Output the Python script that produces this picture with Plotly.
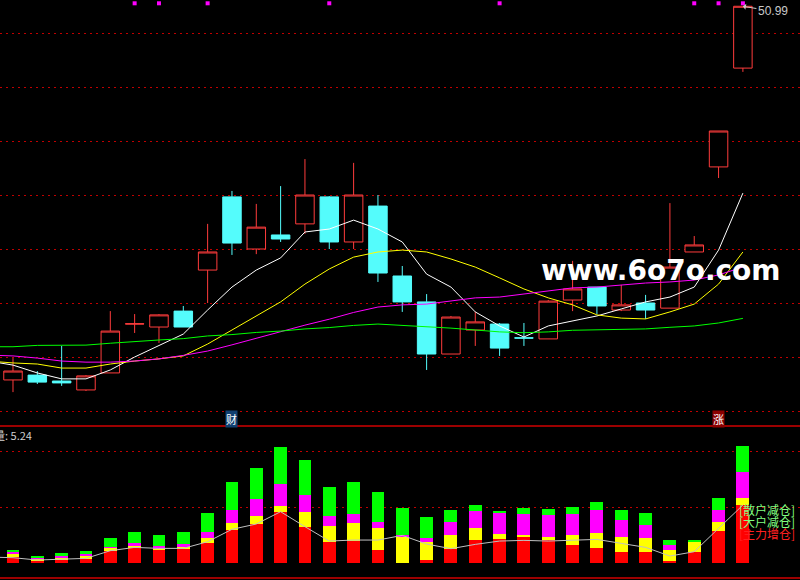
import plotly.graph_objects as go

# ---------------- data ----------------
days = list(range(31))
ma_days = list(range(-1, 31))

opens = [37.15, 37.33, 37.11, 36.78, 37.41, 39.22, 39.11, 39.70, 41.22, 43.93, 42.00, 42.52, 42.93, 43.93, 42.26, 43.59,
         41.00, 40.04, 38.11, 39.00, 39.22, 38.71, 38.67, 40.11, 40.59, 39.74, 40.00, 39.81, 41.89, 45.04, 48.70]
highs = [37.96, 37.48, 38.41, 37.33, 39.70, 39.59, 39.59, 39.89, 42.93, 44.15, 43.67, 44.33, 45.33, 43.96, 45.19, 44.00,
         41.37, 40.33, 39.52, 39.67, 39.26, 39.26, 40.11, 41.56, 40.59, 40.67, 40.30, 43.70, 42.48, 46.37, 50.99]
lows = [36.70, 37.00, 36.93, 36.74, 37.41, 38.89, 38.52, 39.11, 40.00, 41.78, 41.81, 42.26, 42.56, 42.00, 42.00, 40.78,
        39.67, 37.52, 38.11, 38.41, 38.04, 38.41, 38.67, 39.70, 39.59, 39.70, 39.41, 39.81, 41.89, 44.63, 48.56]
closes = [37.48, 37.07, 37.04, 37.30, 38.96, 39.23, 39.56, 39.11, 41.89, 42.22, 42.81, 42.37, 44.00, 42.26, 44.00, 41.11,
          40.04, 38.11, 39.48, 39.30, 38.33, 38.70, 40.07, 40.52, 39.89, 39.93, 39.74, 41.33, 42.15, 46.37, 50.99]

ma5 = [37.85, 37.70, 37.41, 37.19, 37.19, 37.52, 38.00, 38.44, 38.85, 39.74, 40.59, 41.22, 41.67, 42.63, 42.74, 43.07,
       42.74, 42.26, 41.07, 40.59, 39.67, 39.15, 38.74, 39.15, 39.33, 39.52, 39.78, 40.04, 40.22, 40.59, 41.96, 44.07]
ma10 = [37.85, 37.78, 37.74, 37.59, 37.59, 37.74, 37.85, 37.93, 38.04, 38.48, 39.00, 39.52, 40.04, 40.70, 41.26, 41.70,
        41.89, 41.96, 41.89, 41.63, 41.33, 40.93, 40.52, 40.19, 39.93, 39.56, 39.44, 39.41, 39.67, 39.96, 40.70, 41.89]
ma20 = [38.07, 38.04, 37.96, 37.85, 37.81, 37.81, 37.85, 37.93, 38.06, 38.22, 38.45, 38.70, 38.93, 39.18, 39.40, 39.65,
        39.85, 39.93, 39.96, 40.07, 40.19, 40.22, 40.33, 40.44, 40.56, 40.59, 40.67, 40.74, 40.78, 40.85, 41.04, 41.33]
ma60 = [38.38, 38.38, 38.43, 38.44, 38.44, 38.51, 38.58, 38.63, 38.68, 38.78, 38.83, 38.91, 38.96, 39.04, 39.09, 39.17,
        39.22, 39.17, 39.14, 39.07, 39.00, 38.93, 38.90, 38.93, 38.99, 39.00, 39.01, 39.04, 39.10, 39.15, 39.26, 39.43]

signal_days = [5, 6, 8, 13, 20, 28, 29, 30]
signal_level = 51.10

vol_red = [0.96, 0.48, 0.54, 0.72, 2.16, 2.76, 2.46, 2.52, 3.54, 5.95, 6.97, 9.13, 6.43, 3.72, 3.90, 2.28,
           0.00, 0.48, 2.46, 4.08, 4.26, 4.80, 4.08, 3.18, 2.64, 1.92, 1.92, 0.30, 1.92, 5.71, 10.39]
vol_yellow = [0.72, 0.18, 0.30, 0.54, 0.60, 0.30, 0.06, 0.24, 0.96, 1.20, 1.50, 1.08, 2.76, 2.94, 3.24, 3.96,
              4.80, 3.30, 2.52, 2.16, 0.90, 0.18, 0.54, 1.80, 2.70, 2.70, 2.52, 1.98, 1.86, 1.62, 1.26]
vol_magenta = [0.30, 0.36, 0.42, 0.36, 0.12, 0.42, 0.54, 0.66, 1.08, 2.34, 3.00, 4.02, 3.00, 1.80, 1.68, 1.14,
               0.18, 0.72, 2.40, 3.06, 3.78, 3.78, 3.96, 3.78, 4.14, 3.06, 2.34, 0.90, 0.06, 2.16, 4.68]
vol_green = [0.30, 0.06, 0.48, 0.48, 1.56, 2.04, 1.98, 2.10, 3.36, 5.05, 5.59, 6.61, 6.31, 5.17, 5.71, 5.35,
             4.86, 3.72, 2.10, 1.08, 0.36, 1.08, 1.08, 1.26, 1.44, 1.80, 2.16, 0.90, 0.18, 2.16, 4.68]
vol_line = [1.02, 0.90, 0.48, 0.66, 0.78, 2.16, 2.76, 2.58, 2.58, 3.78, 6.01, 6.97, 9.19, 6.49, 3.90, 4.08,
            4.08, 4.92, 3.36, 2.52, 3.30, 3.90, 4.02, 3.90, 4.08, 4.20, 3.48, 2.76, 1.20, 1.98, 6.19, 10.39]

high_label = "50.99"
vol_label = "量: 5.24"
legend_texts = ["[散户减仓]", "[大户减仓]", "[主力增仓]"]
legend_colors = ["#80ff80", "#80ff80", "#ff2020"]

# ---------------- figure ----------------
fig = go.Figure()

fig.add_trace(go.Candlestick(
    x=days, open=opens, high=highs, low=lows, close=closes,
    increasing=dict(line=dict(color="#ff3c3c", width=1), fillcolor="#000000"),
    decreasing=dict(line=dict(color="#54fcfc", width=1), fillcolor="#54fcfc"),
    whiskerwidth=0, xaxis="x", yaxis="y"))

for vals, col in [(ma5, "#ffffff"), (ma10, "#ffff00"), (ma20, "#ff00ff"), (ma60, "#00ff00")]:
    fig.add_trace(go.Scatter(x=ma_days, y=vals, mode="lines", line=dict(color=col, width=1),
                             xaxis="x", yaxis="y", hoverinfo="skip"))

fig.add_trace(go.Scatter(x=signal_days, y=[signal_level] * len(signal_days), mode="markers",
                         marker=dict(symbol="square", size=4, color="#ff00ff", line=dict(width=0)),
                         cliponaxis=False, xaxis="x", yaxis="y"))

for vals, col in [(vol_red, "#ff0000"), (vol_yellow, "#ffff00"), (vol_magenta, "#ff00ff"), (vol_green, "#00ff00")]:
    fig.add_trace(go.Bar(x=days, y=vals, width=0.53, marker=dict(color=col, line=dict(width=0)),
                         xaxis="x", yaxis="y2"))

fig.add_trace(go.Scatter(x=ma_days, y=vol_line, mode="lines", line=dict(color="#c0c0c0", width=1),
                         xaxis="x", yaxis="y2", hoverinfo="skip"))

grid_col = "#c00000"
fig.update_layout(
    width=800, height=580, margin=dict(l=0, r=0, t=0, b=0),
    paper_bgcolor="#000000", plot_bgcolor="#000000", showlegend=False,
    barmode="stack", boxgap=0.24, boxgroupgap=0,
    xaxis=dict(range=[-0.534, 32.347], showticklabels=False, showgrid=False, zeroline=False,
               showline=False, ticks="", rangeslider=dict(visible=False), anchor="y2"),
    yaxis=dict(domain=[0.265517, 1], range=[35.4444, 51.2222], showticklabels=False, ticks="",
               showgrid=True, gridcolor=grid_col, griddash="2px,4px", gridwidth=1,
               tick0=0, dtick=2, zeroline=False, showline=False),
    yaxis2=dict(domain=[0.003448, 0.265517], range=[-2.757, 24.63], showticklabels=False, ticks="",
                showgrid=True, gridcolor=grid_col, griddash="2px,4px", gridwidth=1,
                tickvals=[10, 20], zeroline=False, showline=False),
    shapes=[
        dict(type="line", xref="paper", yref="paper", x0=0, x1=1, y0=0.265517, y1=0.265517,
             line=dict(color="#d00000", width=1.5)),
        dict(type="line", xref="paper", yref="paper", x0=0, x1=1, y0=0.003448, y1=0.003448,
             line=dict(color="#d00000", width=1.5)),
    ],
)

ann = [
    dict(text="www.6o7o.com", x=661 / 800, y=(580 - 270) / 580, xref="paper", yref="paper",
         xanchor="center", yanchor="middle", showarrow=False,
         font=dict(family="DejaVu Sans", size=28, color="#ffffff", weight="bold")),
    dict(text=high_label, x=30, y=highs[-1], xref="x", yref="y", showarrow=True, ax=30, ay=5,
         arrowcolor="#c8c8c8", arrowwidth=1, arrowhead=1, arrowsize=1,
         font=dict(family="Liberation Sans", size=12, color="#c8c8c8")),
    dict(text=vol_label, x=-8 / 800, y=(580 - 434.5) / 580, xref="paper", yref="paper",
         xanchor="left", yanchor="middle", showarrow=False,
         font=dict(family="Noto Sans CJK SC, Liberation Sans", size=11, color="#d0d0d0")),
    dict(text="财", x=9, y=(580 - 418.5) / 580, xref="x", yref="paper", xanchor="center", yanchor="middle",
         showarrow=False, bgcolor="#104070", borderpad=0,
         font=dict(family="Noto Sans CJK SC", size=11, color="#ffffff")),
    dict(text="涨", x=29, y=(580 - 418.5) / 580, xref="x", yref="paper", xanchor="center", yanchor="middle",
         showarrow=False, bgcolor="#8b0000", borderpad=0,
         font=dict(family="Noto Sans CJK SC", size=11, color="#ffffff")),
]
for i, (t, c) in enumerate(zip(legend_texts, legend_colors)):
    ann.append(dict(text=t, x=797 / 800, y=(580 - (509 + 12.3 * i)) / 580, xref="paper", yref="paper",
                    xanchor="right", yanchor="middle", showarrow=False,
                    font=dict(family="Noto Sans CJK SC", size=12, color=c)))
fig.update_layout(annotations=ann)

fig.write_html("out.html", config={"displayModeBar": False},
               post_script="document.body.style.margin='0';document.body.style.overflow='hidden';")
